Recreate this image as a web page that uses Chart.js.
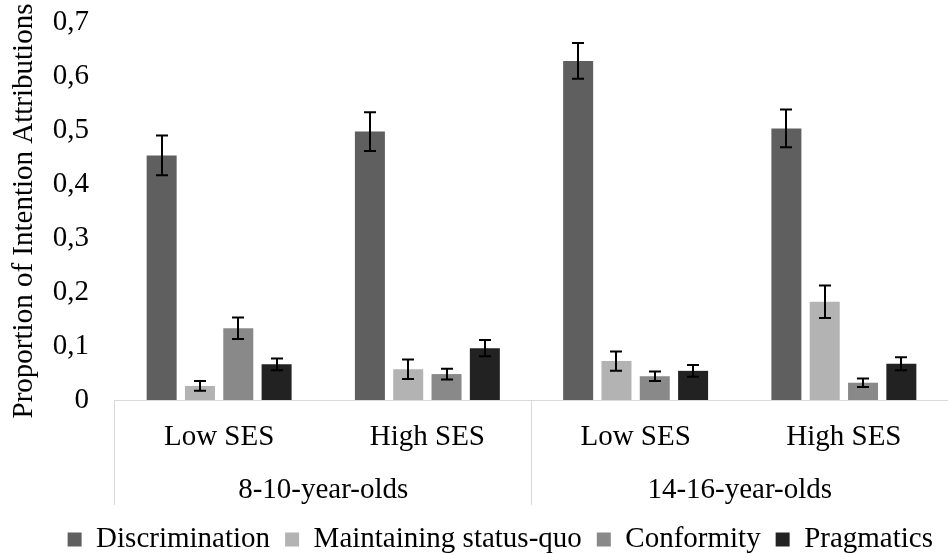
<!DOCTYPE html>
<html>
<head>
<meta charset="utf-8">
<script src="https://cdn.jsdelivr.net/npm/chart.js@4/dist/chart.umd.min.js"></script>
<style>
  html, body { margin: 0; padding: 0; background: #ffffff; }
  #wrap { width: 948px; height: 554px; position: relative; }
</style>
</head>
<body>
<div id="wrap"><canvas id="c"></canvas></div>
<script>
// ---- data ----
const categories = ['Low SES', 'High SES', 'Low SES', 'High SES'];
const ageGroups = ['8-10-year-olds', '14-16-year-olds'];
const seriesNames = ['Discrimination', 'Maintaining status-quo', 'Conformity', 'Pragmatics'];
const discrimination = [0.453, 0.497, 0.628, 0.503];
const discriminationErr = [0.037, 0.036, 0.033, 0.035];
const maintaining = [0.026, 0.057, 0.072, 0.182];
const maintainingErr = [0.009, 0.018, 0.018, 0.030];
const conformity = [0.133, 0.048, 0.044, 0.032];
const conformityErr = [0.020, 0.010, 0.009, 0.008];
const pragmatics = [0.066, 0.096, 0.054, 0.067];
const pragmaticsErr = [0.011, 0.015, 0.011, 0.012];
const yTickValues = [0, 0.1, 0.2, 0.3, 0.4, 0.5, 0.6, 0.7];
const yTickLabels = ['0', '0,1', '0,2', '0,3', '0,4', '0,5', '0,6', '0,7'];
const yTitle = 'Proportion of Intention Attributions';

// ---- styles ----
const colors = ['#5f5f5f', '#b3b3b3', '#898989', '#222222'];
const FONT = '"Liberation Serif", "Times New Roman", serif';
const seriesValues = [discrimination, maintaining, conformity, pragmatics];
const seriesErrors = [discriminationErr, maintainingErr, conformityErr, pragmaticsErr];

const errorBars = {
  id: 'errorBars',
  afterDatasetsDraw(chart) {
    const ctx = chart.ctx;
    const y = chart.scales.y;
    ctx.save();
    ctx.strokeStyle = '#000000';
    ctx.lineWidth = 2;
    chart.data.datasets.forEach((ds, i) => {
      const meta = chart.getDatasetMeta(i);
      meta.data.forEach((bar, j) => {
        const v = ds.data[j], e = ds.errors[j];
        const top = y.getPixelForValue(v + e);
        const bot = y.getPixelForValue(v - e);
        const x = Math.round(bar.x);
        ctx.beginPath();
        ctx.moveTo(x, top); ctx.lineTo(x, bot);
        ctx.moveTo(x - 6, top); ctx.lineTo(x + 6, top);
        ctx.moveTo(x - 6, bot); ctx.lineTo(x + 6, bot);
        ctx.stroke();
      });
    });
    ctx.restore();
  }
};

const separators = {
  id: 'separators',
  afterDraw(chart) {
    const ctx = chart.ctx;
    const x = chart.scales.x;
    const x2 = chart.scales.x2;
    const area = chart.chartArea;
    const half = x.ticks.length / 2;
    const xs = [area.left, (x.getPixelForTick(half - 1) + x.getPixelForTick(half)) / 2];
    ctx.save();
    ctx.strokeStyle = '#d9d9d9';
    ctx.lineWidth = 1;
    xs.forEach(px => {
      const p = Math.round(px) - 0.5;
      ctx.beginPath();
      ctx.moveTo(p, area.bottom);
      ctx.lineTo(p, x2.bottom - 5);
      ctx.stroke();
    });
    ctx.restore();
  }
};

new Chart(document.getElementById('c'), {
  type: 'bar',
  data: {
    labels: categories,
    datasets: seriesNames.map((name, i) => ({
      label: name,
      data: seriesValues[i],
      errors: seriesErrors[i],
      backgroundColor: colors[i],
      borderWidth: 0,
      categoryPercentage: 0.736,
      barPercentage: 0.783
    }))
  },
  options: {
    responsive: true,
    maintainAspectRatio: false,
    animation: false,
    layout: { padding: { top: 22, right: 0, left: 0, bottom: -10 } },
    plugins: {
      tooltip: { enabled: false },
      legend: {
        position: 'bottom',
        align: 'end',
        labels: {
          boxWidth: 14,
          boxHeight: 14,
          padding: 15,
          color: '#000000',
          font: { family: FONT, size: 29 }
        }
      }
    },
    scales: {
      y: {
        min: 0,
        max: 0.7,
        afterFit(s) { s.width = 115; s.paddingTop = 0; s.paddingBottom = 0; },
        afterBuildTicks(s) { s.ticks = yTickValues.map(v => ({ value: v })); },
        grid: { display: false, drawTicks: false },
        border: { display: false },
        ticks: {
          padding: 26,
          color: '#000000',
          font: { family: FONT, size: 29 },
          callback: (v) => {
            const k = yTickValues.findIndex(t => Math.abs(t - v) < 1e-9);
            return k >= 0 ? yTickLabels[k] : '';
          }
        },
        title: {
          display: true,
          text: yTitle,
          color: '#000000',
          padding: { top: 7, bottom: 0 },
          font: { family: FONT, size: 29 }
        }
      },
      x: {
        afterFit(s) { s.height = 65; },
        grid: { display: false, drawTicks: false },
        border: { display: true, color: '#d9d9d9', width: 1 },
        ticks: {
          padding: 20,
          color: '#000000',
          maxRotation: 0,
          autoSkip: false,
          font: { family: FONT, size: 29 }
        }
      },
      x2: {
        type: 'category',
        position: 'bottom',
        labels: ageGroups,
        offset: true,
        afterFit(s) { s.height = 45; },
        grid: { display: false, drawTicks: false },
        border: { display: false },
        ticks: {
          padding: 8,
          color: '#000000',
          maxRotation: 0,
          autoSkip: false,
          font: { family: FONT, size: 29 }
        }
      }
    }
  },
  plugins: [errorBars, separators]
});
</script>
</body>
</html>
